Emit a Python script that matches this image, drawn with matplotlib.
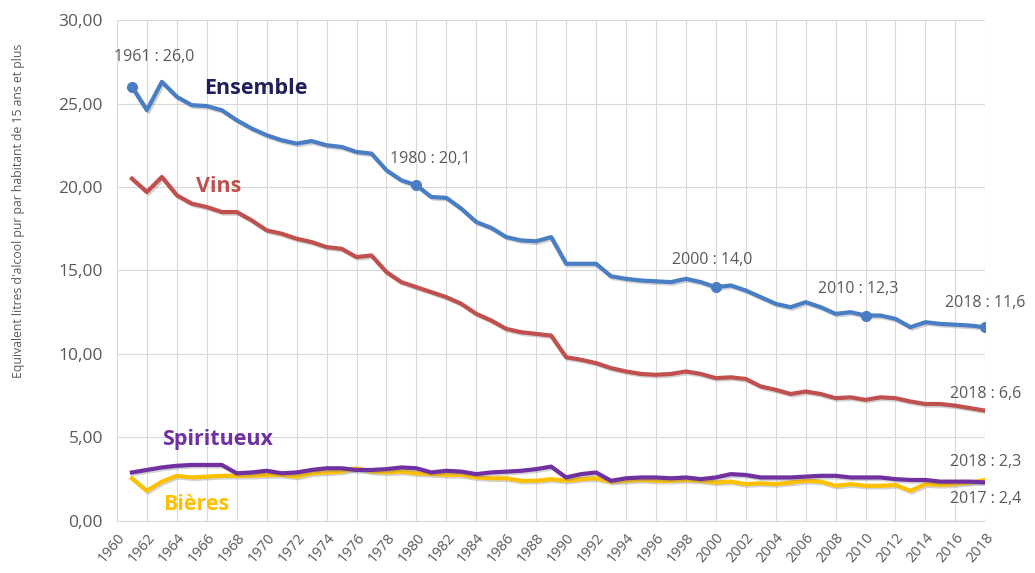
import matplotlib.pyplot as plt
import matplotlib.patheffects as pe
from matplotlib.ticker import FuncFormatter, MultipleLocator

plt.rcParams['font.family'] = ['Open Sans', 'DejaVu Sans']

# Data
years = list(range(1961, 2019))

ensemble = [26.0, 24.6, 26.3, 25.4, 24.9, 24.85, 24.6, 24.0, 23.5, 23.1,
            22.8, 22.6, 22.75, 22.5, 22.4, 22.1, 22.0, 21.0, 20.4, 20.1,
            19.4, 19.35, 18.7, 17.9, 17.55, 17.0, 16.8, 16.75, 17.0, 15.4,
            15.4, 15.4, 14.65, 14.5, 14.4, 14.35, 14.3, 14.5, 14.3, 14.0,
            14.1, 13.8, 13.4, 13.0, 12.8, 13.1, 12.8, 12.4, 12.5, 12.3,
            12.3, 12.1, 11.6, 11.9, 11.8, 11.75, 11.7, 11.6]

vins = [20.5, 19.7, 20.6, 19.5, 19.0, 18.8, 18.5, 18.5, 18.0, 17.4,
        17.2, 16.9, 16.7, 16.4, 16.3, 15.8, 15.9, 14.9, 14.3, 14.0,
        13.7, 13.4, 13.0, 12.4, 12.0, 11.5, 11.3, 11.2, 11.1, 9.8,
        9.65, 9.45, 9.15, 8.95, 8.8, 8.75, 8.8, 8.95, 8.8, 8.55,
        8.6, 8.5, 8.05, 7.85, 7.6, 7.75, 7.6, 7.35, 7.4, 7.25,
        7.4, 7.35, 7.15, 7.0, 7.0, 6.9, 6.75, 6.6]

spiritueux = [2.9, 3.05, 3.2, 3.3, 3.35, 3.35, 3.35, 2.85, 2.9, 3.0,
              2.85, 2.9, 3.05, 3.15, 3.15, 3.05, 3.05, 3.1, 3.2, 3.15,
              2.9, 3.0, 2.95, 2.8, 2.9, 2.95, 3.0, 3.1, 3.25, 2.6,
              2.8, 2.9, 2.4, 2.55, 2.6, 2.6, 2.55, 2.6, 2.5, 2.6,
              2.8, 2.75, 2.6, 2.6, 2.6, 2.65, 2.7, 2.7, 2.6, 2.6,
              2.6, 2.5, 2.45, 2.45, 2.35, 2.35, 2.35, 2.3]

bieres = [2.55, 1.8, 2.35, 2.7, 2.6, 2.65, 2.7, 2.7, 2.7, 2.75,
          2.75, 2.65, 2.85, 2.9, 2.95, 3.15, 2.95, 2.9, 2.95, 2.85,
          2.8, 2.75, 2.75, 2.6, 2.55, 2.55, 2.4, 2.4, 2.5, 2.4,
          2.5, 2.55, 2.35, 2.4, 2.45, 2.4, 2.4, 2.45, 2.4, 2.3,
          2.35, 2.2, 2.25, 2.2, 2.3, 2.4, 2.35, 2.1, 2.2, 2.1,
          2.1, 2.15, 1.8, 2.2, 2.15, 2.2, 2.3, 2.45]

marked_years = [1961, 1980, 2000, 2010, 2018]

# Colours
BLUE = '#4a7ec4'
RED = '#c0504d'
PURPLE = '#7030a0'
YELLOW = '#ffc000'
GREY = '#595959'

fig = plt.figure(figsize=(10.35, 5.73), dpi=100)
ax = fig.add_axes([0.113, 0.091, 0.839, 0.874])

shadow = [pe.SimpleLineShadow(offset=(1.2, -1.2), shadow_color='#7f7f7f', alpha=0.35),
          pe.Normal()]

ax.plot(years, bieres, color=YELLOW, lw=3, path_effects=shadow, zorder=3)
ax.plot(years, spiritueux, color=PURPLE, lw=3, path_effects=shadow, zorder=4)
ax.plot(years, vins, color=RED, lw=3, path_effects=shadow, zorder=3)
ax.plot(years, ensemble, color=BLUE, lw=3, path_effects=shadow, zorder=3)

ens_marked = [ensemble[years.index(y)] for y in marked_years]
ax.plot(marked_years, ens_marked, 'o', color=BLUE, ms=7, zorder=5)

# value labels
def fmt(v):
    return ('%.1f' % v).replace('.', ',')

LBL = 11.5
offsets = {1961: (22, 30), 1980: (14, 26), 2000: (-4, 27), 2010: (-7, 27), 2018: (0, 24)}
for y in marked_years:
    v = ensemble[years.index(y)]
    ax.annotate('%d : %s' % (y, fmt(v)), (y, v), xytext=offsets[y],
                textcoords='offset pixels', ha='center', va='center',
                fontsize=LBL, color=GREY, annotation_clip=False)

ax.annotate('2018 : %s' % fmt(vins[-1]), (2018, vins[-1]), xytext=(0, 17),
            textcoords='offset pixels', ha='center', va='center',
            fontsize=LBL, color=GREY, annotation_clip=False)
ax.annotate('2018 : %s' % fmt(spiritueux[-1]), (2018, spiritueux[-1]), xytext=(0, 20),
            textcoords='offset pixels', ha='center', va='center',
            fontsize=LBL, color=GREY, annotation_clip=False)
ax.annotate('2017 : 2,4', (2017, bieres[-2]), xytext=(15, -17),
            textcoords='offset pixels', ha='center', va='center',
            fontsize=LBL, color=GREY, annotation_clip=False)

# series names
NAME = 15.5
ax.text(1969.3, 25.9, 'Ensemble', color='#1f1f5c', fontsize=NAME, fontweight='bold',
        ha='center', va='center')
ax.text(1966.8, 20.0, 'Vins', color=RED, fontsize=NAME, fontweight='bold',
        ha='center', va='center')
ax.text(1966.7, 4.85, 'Spiritueux', color=PURPLE, fontsize=NAME, fontweight='bold',
        ha='center', va='center')
ax.text(1965.3, 0.96, 'Bières', color=YELLOW, fontsize=NAME, fontweight='bold',
        ha='center', va='center')

# axes
ax.set_xlim(1960, 2018)
ax.set_ylim(0, 30)
ax.xaxis.set_major_locator(MultipleLocator(2))
ax.yaxis.set_major_locator(MultipleLocator(5))
ax.yaxis.set_major_formatter(FuncFormatter(lambda v, p: ('%.2f' % v).replace('.', ',')))
ax.grid(True, color='#d9d9d9', lw=0.8)
ax.set_axisbelow(True)
for s in ['top', 'right', 'left']:
    ax.spines[s].set_visible(False)
ax.spines['bottom'].set_color('#d9d9d9')
ax.tick_params(axis='both', length=0, colors=GREY)
ax.tick_params(axis='y', pad=10, labelsize=12.5)
ax.tick_params(axis='x', pad=7, labelsize=10.5)
for lab in ax.get_xticklabels():
    lab.set_rotation(50)
    lab.set_ha('right')
    lab.set_rotation_mode('anchor')

fig.text(0.0175, 1 - 211 / 573, "Equivalent litres d'alcool pur par habitant de 15 ans et plus",
         rotation=90, ha='center', va='center', fontsize=8.8, color=GREY)

fig.savefig('out.png', dpi=100)
